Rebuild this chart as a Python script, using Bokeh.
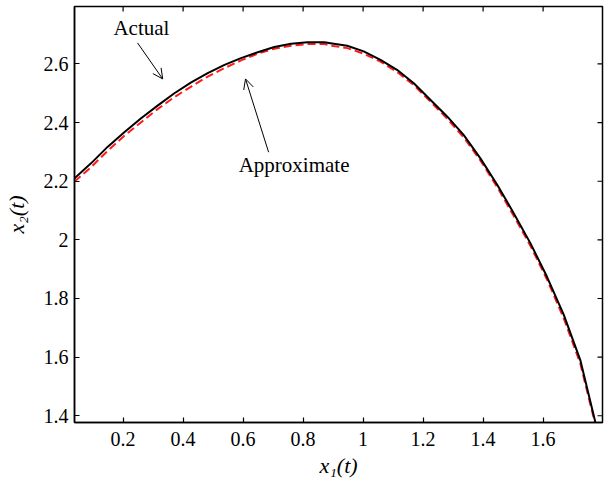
import math
from bokeh.plotting import figure
from bokeh.models import Range1d, FixedTicker, Arrow, OpenHead, Label
from bokeh.embed import file_html
from bokeh.resources import INLINE

# Actual trajectory
actual_x1 = [0.038, 0.093, 0.149, 0.204, 0.260, 0.315, 0.371, 0.427, 0.482, 0.538,
             0.593, 0.649, 0.704, 0.760, 0.815, 0.871, 0.891, 0.947, 1.002, 1.058,
             1.113, 1.169, 1.224, 1.280, 1.335, 1.391, 1.447, 1.502, 1.558, 1.613,
             1.669, 1.724, 1.774]
actual_x2 = [2.210, 2.261, 2.318, 2.367, 2.415, 2.458, 2.500, 2.537, 2.569, 2.597,
             2.620, 2.640, 2.658, 2.669, 2.674, 2.674, 2.671, 2.662, 2.643, 2.614,
             2.580, 2.534, 2.478, 2.421, 2.358, 2.278, 2.188, 2.091, 1.988, 1.874,
             1.744, 1.590, 1.379]

# Approximate trajectory
approx_x1 = [0.038, 0.093, 0.149, 0.204, 0.260, 0.315, 0.371, 0.427, 0.482, 0.538,
             0.593, 0.649, 0.704, 0.760, 0.815, 0.871, 0.891, 0.947, 1.002, 1.058,
             1.113, 1.169, 1.224, 1.280, 1.335, 1.391, 1.447, 1.502, 1.558, 1.613,
             1.669, 1.724, 1.772]
approx_x2 = [2.199, 2.248, 2.304, 2.355, 2.401, 2.446, 2.487, 2.523, 2.557, 2.586,
             2.612, 2.635, 2.652, 2.662, 2.668, 2.668, 2.663, 2.654, 2.635, 2.608,
             2.573, 2.528, 2.472, 2.414, 2.350, 2.271, 2.180, 2.082, 1.979, 1.865,
             1.732, 1.578, 1.379]

x_ticks = [0.2, 0.4, 0.6, 0.8, 1.0, 1.2, 1.4, 1.6]
y_ticks = [1.4, 1.6, 1.8, 2.0, 2.2, 2.4, 2.6]
x_tick_labels = {0.2: "0.2", 0.4: "0.4", 0.6: "0.6", 0.8: "0.8", 1.0: "1",
                 1.2: "1.2", 1.4: "1.4", 1.6: "1.6"}
y_tick_labels = {1.4: "1.4", 1.6: "1.6", 1.8: "1.8", 2.0: "2", 2.2: "2.2",
                 2.4: "2.4", 2.6: "2.6"}

X_MIN, X_MAX = 0.038, 1.798
Y_MIN, Y_MAX = 1.377, 2.796

FONT = "Liberation Serif"

p = figure(width=605, height=485, output_backend="svg", toolbar_location=None,
           x_range=Range1d(X_MIN, X_MAX), y_range=Range1d(Y_MIN, Y_MAX),
           min_border_left=74, min_border_right=3, min_border_top=6, min_border_bottom=63)
p.grid.visible = False
p.outline_line_color = "black"
p.outline_line_width = 1.5
p.background_fill_color = "white"
p.border_fill_color = "white"

for ax in (p.xaxis[0], p.yaxis[0]):
    ax.major_tick_in = 5
    ax.major_tick_out = 0
    ax.minor_tick_line_color = None
    ax.axis_line_width = 1.5
    ax.axis_line_color = "black"
    ax.major_tick_line_color = "black"
    ax.major_tick_line_width = 1.2
    ax.major_label_text_font = FONT
    ax.major_label_text_font_size = "20px"
    ax.major_label_text_color = "black"
    ax.axis_label_text_font = FONT
    ax.axis_label_text_font_size = "22px"
    ax.axis_label_text_font_style = "italic"
    ax.axis_label_text_color = "black"

p.xaxis[0].ticker = FixedTicker(ticks=x_ticks)
p.xaxis[0].major_label_overrides = x_tick_labels
p.xaxis[0].major_label_standoff = 9
p.xaxis[0].axis_label = "x₁(t)"
p.xaxis[0].axis_label_standoff = 4

p.yaxis[0].ticker = FixedTicker(ticks=y_ticks)
p.yaxis[0].major_label_overrides = y_tick_labels
p.yaxis[0].major_label_standoff = 6
p.yaxis[0].axis_label = "x₂(t)"
p.yaxis[0].axis_label_standoff = 12

# mirrored inward ticks on the top and right edges
p.ray(x=x_ticks, y=[Y_MAX] * len(x_ticks), length=5, length_units="screen",
      angle=-math.pi / 2, line_color="black", line_width=1.2)
p.ray(x=[X_MAX] * len(y_ticks), y=y_ticks, length=5, length_units="screen",
      angle=math.pi, line_color="black", line_width=1.2)

p.line(approx_x1, approx_x2, line_color="#ff1a1a", line_width=2, line_dash="8 4")
p.line(actual_x1, actual_x2, line_color="black", line_width=2)

p.add_layout(Label(x=0.261, y=2.723, text="Actual", text_font=FONT, text_font_size="21px",
                   text_align="center", text_baseline="middle", text_color="black"))
p.add_layout(Arrow(x_start=0.248, y_start=2.672, x_end=0.332, y_end=2.549,
                   line_width=1, end=OpenHead(size=10, line_width=1)))
p.add_layout(Label(x=0.770, y=2.257, text="Approximate", text_font=FONT, text_font_size="21px",
                   text_align="center", text_baseline="middle", text_color="black"))
p.add_layout(Arrow(x_start=0.685, y_start=2.299, x_end=0.608, y_end=2.549,
                   line_width=1, end=OpenHead(size=10, line_width=1)))

open("out.html", "w").write(file_html(p, INLINE))
